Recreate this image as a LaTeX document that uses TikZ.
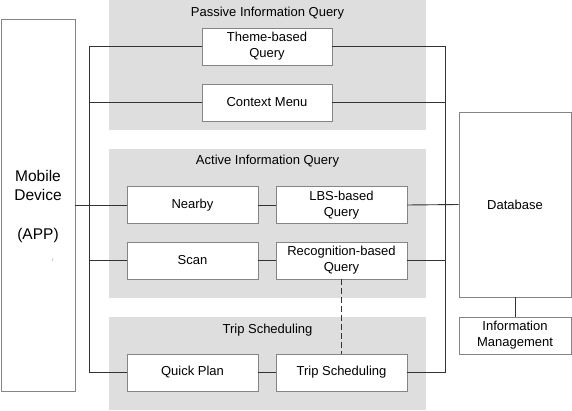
\documentclass[tikz,border=0pt]{standalone}
\usepackage{fontspec}
\setmainfont{Liberation Sans}
\definecolor{groupgray}{HTML}{DEDEDE}
\definecolor{boxgray}{HTML}{858585}
\definecolor{linedark}{HTML}{333333}
\begin{document}
\begin{tikzpicture}[x=1pt,y=-1pt,
  grp/.style={fill=groupgray,draw=none},
  gtitle/.style={font=\fontsize{13}{16}\selectfont,inner sep=0pt},
  bx/.style={draw=boxgray,fill=white,line width=0.8pt,minimum width=130pt,minimum height=37pt,
    align=center,inner sep=0pt,font=\fontsize{13}{16}\selectfont},
  conn/.style={draw=linedark,line width=0.9pt},
  dconn/.style={draw=linedark,line width=0.9pt,dash pattern=on 6pt off 3pt}]
\useasboundingbox (0,0) rectangle (572,411);
% groups
\path[grp] (109,0) rectangle (426,130);
\path[grp] (109,149) rectangle (426,298);
\path[grp] (109,317) rectangle (426,410);
\node[gtitle] (t1) at (267.5,13) {Passive Information Query};
\node[gtitle] (t2) at (267.5,161) {Active Information Query};
\node[gtitle] (t3) at (267.5,330) {Trip Scheduling};
% left / right devices
\node[bx,minimum width=74pt,minimum height=372pt] (mobile) at (38,205) {};
\node[font=\fontsize{15.5}{19}\selectfont,align=center,inner sep=0pt] (mtext) at (38,185.5) {Mobile\\Device};
\node[font=\fontsize{15.5}{19}\selectfont,inner sep=0pt] (app) at (38,235) {(APP)};
\draw[draw=gray!40,line width=0.8pt] (52,258) -- (52,261);
\node[bx,minimum width=112pt,minimum height=185pt] (db) at (515,204.5) {Database};
\node[bx,minimum width=112pt,minimum height=37pt] (info) at (515,335.5) {Information\\Management};
% boxes
\node[bx] (theme) at (267,46.5) {Theme-based\\Query};
\node[bx] (context) at (267,102.5) {Context Menu};
\node[bx,minimum width=131pt] (nearby) at (192.5,205) {Nearby};
\node[bx,minimum width=131pt] (lbs) at (341.5,205) {LBS-based\\Query};
\node[bx,minimum width=131pt] (scan) at (192.5,260.5) {Scan};
\node[bx,minimum width=131pt] (recog) at (341.5,260.5) {Recognition-based\\Query};
\node[bx,minimum width=131pt] (quick) at (192.5,372.5) {Quick Plan};
\node[bx,minimum width=131pt] (trip) at (341.5,372.5) {Trip Scheduling};
% buses
\coordinate (LB) at (89,372.5);
\coordinate (RB) at (445,372.5);
\draw[conn] (theme.west) -| (LB) -- (quick.west);
\draw[conn] (context.west) -- (context.west -| LB);
\draw[conn] (scan.west) -- (scan.west -| LB);
\draw[conn] (mobile.east) -- (nearby.west);
\draw[conn] (theme.east) -| (RB) -- (trip.east);
\draw[conn] (context.east) -- (context.east -| RB);
\draw[conn] (recog.east) -- (recog.east -| RB);
\draw[conn] (lbs.east) -- (db.west);
\draw[conn] (nearby.east) -- (lbs.west);
\draw[conn] (scan.east) -- (recog.west);
\draw[conn] (quick.east) -- (trip.west);
\draw[dconn] (recog.south) -- (trip.north);
\draw[conn] (db.south) -- (info.north);
\end{tikzpicture}
\end{document}
